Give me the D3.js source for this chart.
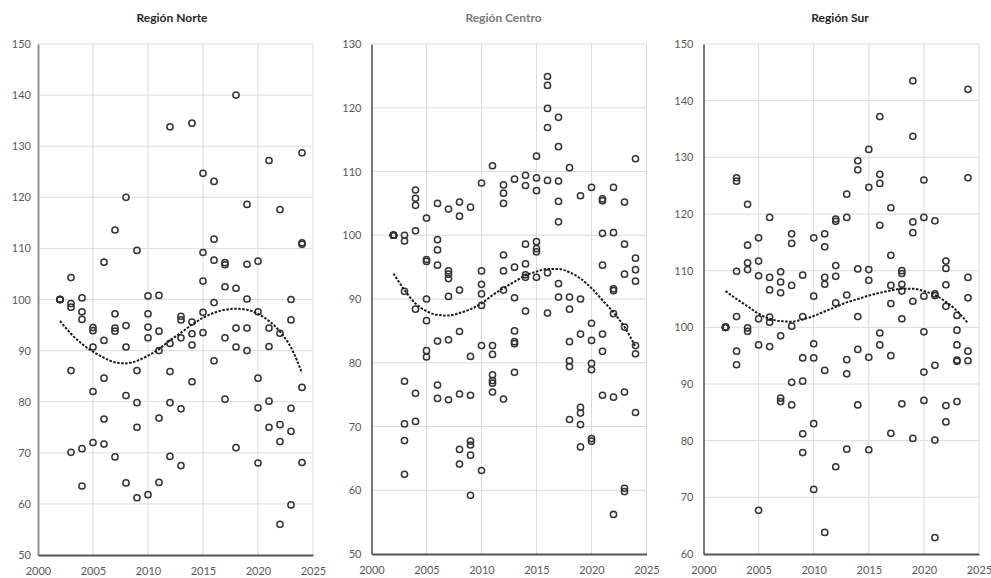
<!DOCTYPE html>
<html><head><meta charset="utf-8">
<script src="https://cdn.jsdelivr.net/npm/d3@7"></script>
<style>
body{margin:0;background:#fff;}
svg{display:block;font-family:Lato,"Open Sans","Liberation Sans",sans-serif;}
</style>
</head><body>
<svg id="chart" width="991" height="578"></svg>
<script>
// ---------- DATA ----------
const years = [2002,2003,2004,2005,2006,2007,2008,2009,2010,2011,2012,2013,2014,2015,2016,2017,2018,2019,2020,2021,2022,2023,2024];
const xTicks = [2000,2005,2010,2015,2020,2025];
const norteTicks = [50,60,70,80,90,100,110,120,130,140,150];
const centroTicks = [50,60,70,80,90,100,110,120,130];
const surTicks = [60,70,80,90,100,110,120,130,140,150];
const titles = ["Región Norte","Región Centro","Región Sur"];

// values per year (one inner array per year)
const norteValues = [
  [100,100,100,100,100],
  [104.3,99.2,98.5,86.1,70.1],
  [100.3,97.6,96.1,70.8,63.5],
  [94.5,93.9,90.7,82.0,72.0],
  [107.3,92.0,84.6,76.6,71.7],
  [113.6,97.2,94.4,93.8,69.2],
  [120.0,94.9,90.7,81.2,64.1],
  [109.6,86.1,79.8,75.0,61.2],
  [100.7,97.2,94.6,92.5,61.8],
  [100.8,93.8,90.0,76.8,64.2],
  [133.8,91.4,85.9,79.8,69.3],
  [96.7,96.0,92.5,78.6,67.5],
  [134.5,95.6,93.3,91.1,83.9],
  [124.7,109.2,103.6,97.5,93.5],
  [123.1,111.8,107.7,99.4,88.0],
  [107.2,106.8,102.5,92.5,80.5],
  [140.0,102.2,94.4,90.7,71.0],
  [118.6,106.9,100.1,94.4,90.0],
  [107.5,97.6,84.6,78.8,68.0],
  [127.2,94.4,90.8,80.1,75.0],
  [117.6,93.4,75.5,72.2,56.0],
  [100.0,96.0,78.7,74.2,59.8],
  [128.7,111.1,110.8,82.8,68.1]
];
const centroValues = [
  [100,100,100,100,100,100,100],
  [100.0,99.1,91.2,77.1,70.4,67.8,62.5],
  [107.1,105.8,104.7,100.7,88.4,75.2,70.8],
  [102.7,96.2,95.9,90.0,86.6,81.9,80.9],
  [105.0,99.3,97.7,95.3,83.4,76.5,74.4],
  [104.1,94.4,93.9,93.2,90.4,83.6,74.2],
  [105.2,103.0,91.4,84.9,75.1,66.4,64.1],
  [104.4,81.0,74.9,67.7,67.1,65.5,59.2],
  [108.2,94.4,92.3,90.8,89.0,82.7,63.1],
  [110.9,82.7,81.3,78.1,77.2,76.8,75.4],
  [107.9,106.6,105.0,96.9,94.4,91.4,74.3],
  [108.8,95.0,90.2,85.0,83.3,83.0,78.5],
  [109.4,107.8,98.6,95.5,93.8,93.4,88.1],
  [112.4,109.0,107.0,99.0,97.9,97.4,93.4],
  [124.9,123.5,119.9,116.9,108.6,94.1,87.8],
  [118.5,113.9,108.5,105.3,102.1,92.4,90.3],
  [110.6,90.3,88.4,83.3,80.3,79.4,71.1],
  [106.2,90.0,84.5,73.0,72.1,70.3,66.8],
  [107.5,86.2,83.5,79.9,78.9,68.1,67.7],
  [105.7,105.4,100.3,95.3,84.5,81.8,74.9],
  [107.5,100.4,91.6,91.3,87.7,74.6,56.2],
  [105.2,98.6,93.9,85.6,75.4,60.3,59.8],
  [112.0,96.4,94.6,92.8,82.7,81.4,72.2]
];
const surValues = [
  [100,100,100,100,100,100],
  [126.4,125.8,109.9,101.9,95.8,93.4],
  [121.7,114.5,111.4,110.2,99.9,99.3],
  [115.8,111.7,109.1,101.5,96.9,67.7],
  [119.4,108.8,106.6,101.8,100.9,96.6],
  [109.8,108.0,106.1,98.5,87.5,86.9],
  [116.5,114.8,107.4,100.2,90.3,86.3],
  [109.2,101.9,94.6,90.5,81.2,77.9],
  [115.8,105.5,97.1,94.6,83.0,71.4],
  [116.5,114.2,108.8,107.6,92.4,63.8],
  [119.1,118.7,110.9,109.0,104.3,75.4],
  [123.5,119.4,105.7,94.3,91.8,78.5],
  [129.4,127.8,110.3,101.9,96.1,86.3],
  [131.4,124.7,110.2,108.3,94.7,78.4],
  [137.2,127.0,125.4,118.0,99.0,96.9],
  [121.1,112.7,107.4,104.2,95.0,81.3],
  [110.0,109.5,107.6,106.4,101.5,86.5],
  [143.5,133.7,118.6,116.7,104.6,80.4],
  [126.0,119.4,105.5,99.2,92.1,87.1],
  [118.8,105.9,105.6,93.3,80.1,62.9],
  [111.7,110.4,107.5,103.7,86.2,83.3],
  [102.1,99.5,96.9,94.2,94.0,86.9],
  [142.0,126.4,108.8,105.2,95.8,94.1]
];
// trend line values read per year
const norteTrend = [95.8,93.3,91.3,89.8,88.6,87.7,87.5,88.0,89.0,90.3,92.0,93.5,95.1,96.4,97.4,98.0,98.2,98.0,97.2,95.8,93.7,90.6,85.6];
const centroTrend = [94.0,91.4,89.3,88.1,87.5,87.4,87.8,88.4,89.3,90.6,91.7,92.7,93.7,94.3,94.7,94.7,94.2,93.2,91.7,89.8,87.9,85.6,82.5];
const surTrend = [106.4,105.0,103.7,102.4,101.5,101.1,101.0,101.4,102.0,102.8,103.6,104.4,105.0,105.6,106.1,106.5,106.8,106.8,106.4,105.7,104.5,102.9,100.7];

// ---------- LAYOUT ----------
const panels = [
  {title:titles[0], values:norteValues, trend:norteTrend, ticks:norteTicks,
   left:38, right:313, top:44, bottom:555, pad:7, titleX:172, titleColor:"#262626", axisColor:"#8f8f8f", axisW:2},
  {title:titles[1], values:centroValues, trend:centroTrend, ticks:centroTicks,
   left:371.5, right:646.5, top:44, bottom:554, pad:10, titleX:503.5, titleColor:"#7a7a7a", axisColor:"#4a4a4a", axisW:1.5},
  {title:titles[2], values:surValues, trend:surTrend, ticks:surTicks,
   left:703.5, right:979, top:44, bottom:554, pad:10, titleX:840, titleColor:"#262626", axisColor:"#4a4a4a", axisW:1.5}
];

const svg = d3.select("#chart");

panels.forEach(p => {
  const g = svg.append("g");
  const x = d3.scaleLinear().domain([xTicks[0], xTicks[xTicks.length-1]]).range([p.left, p.right]);
  const y = d3.scaleLinear().domain([p.ticks[0], p.ticks[p.ticks.length-1]]).range([p.bottom, p.top]);

  // gridlines
  g.append("g").selectAll("line").data(p.ticks.slice(1)).join("line")
    .attr("x1", p.left).attr("x2", p.right)
    .attr("y1", d => y(d)).attr("y2", d => y(d))
    .attr("stroke", "#dcdcdc").attr("stroke-width", 1);
  g.append("g").selectAll("line").data(xTicks.slice(1)).join("line")
    .attr("x1", d => x(d)).attr("x2", d => x(d))
    .attr("y1", p.top).attr("y2", p.bottom)
    .attr("stroke", "#dcdcdc").attr("stroke-width", 1);

  // axes
  const ya = g.append("g").attr("transform", `translate(${p.left},0)`)
    .call(d3.axisLeft(y).tickValues(p.ticks).tickSize(0).tickPadding(p.pad).tickFormat(d3.format("d")));
  ya.select(".domain").attr("stroke", p.axisColor).attr("stroke-width", p.axisW);
  ya.selectAll("text").attr("fill", "#595959").style("font-size", "11px").style("font-family", "Lato, 'Open Sans', sans-serif");

  const xa = g.append("g").attr("transform", `translate(0,${p.bottom})`)
    .call(d3.axisBottom(x).tickValues(xTicks).tickSize(0).tickPadding(12).tickFormat(d3.format("d")));
  xa.select(".domain").attr("stroke", "#555").attr("stroke-width", 2);
  xa.selectAll("text").attr("fill", "#595959").style("font-size", "11px").style("font-family", "Lato, 'Open Sans', sans-serif");

  // points
  const pts = [];
  years.forEach((yr, i) => p.values[i].forEach(v => pts.push({yr, v})));
  g.append("g").selectAll("circle").data(pts).join("circle")
    .attr("cx", d => x(d.yr)).attr("cy", d => y(d.v)).attr("r", 3.1)
    .attr("fill", "none").attr("stroke", "#333").attr("stroke-width", 1.5);

  // trend
  const line = d3.line().x((d, i) => x(years[i])).y(d => y(d)).curve(d3.curveMonotoneX);
  g.append("path").datum(p.trend).attr("d", line)
    .attr("fill", "none").attr("stroke", "#1a1a1a").attr("stroke-width", 2)
    .attr("stroke-dasharray", "2.5,1.5");

  // title
  g.append("text").attr("x", p.titleX).attr("y", 22).attr("text-anchor", "middle")
    .attr("fill", p.titleColor).style("font-size", "12px").style("font-weight", "bold")
    .text(p.title);
});
</script>
</body></html>
